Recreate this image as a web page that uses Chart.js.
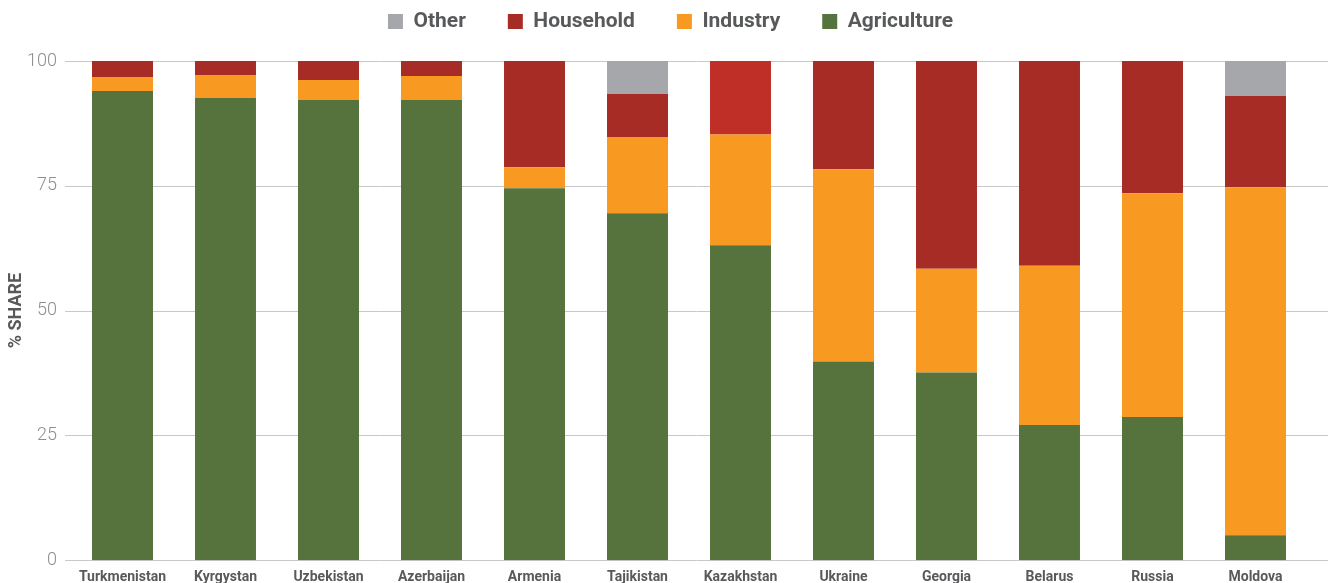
<!DOCTYPE html>
<html>
<head>
<meta charset="utf-8">
<script src="https://cdn.jsdelivr.net/npm/chart.js@4"></script>
<style>
    html, body { margin: 0; padding: 0; background: #fff; overflow: hidden; }
    #wrap { position: relative; width: 1333px; height: 595px; }
</style>
</head>
<body>
<div id="wrap"><canvas id="shareChart"></canvas></div>
<script>
// Data
const countries = ['Turkmenistan', 'Kyrgystan', 'Uzbekistan', 'Azerbaijan', 'Armenia', 'Tajikistan',
    'Kazakhstan', 'Ukraine', 'Georgia', 'Belarus', 'Russia', 'Moldova'];
const agriculture = [94.0, 92.6, 92.2, 92.2, 74.5, 69.5, 63.1, 39.8, 37.6, 27.1, 28.7, 5.0];
const industry    = [2.8, 4.6, 4.0, 4.8, 4.2, 15.2, 22.2, 38.5, 20.8, 31.9, 44.8, 69.7];
const household   = [3.2, 2.8, 3.8, 3.0, 21.3, 8.7, 14.7, 21.7, 41.6, 41.0, 26.5, 18.3];
const other       = [0, 0, 0, 0, 0, 6.6, 0, 0, 0, 0, 0, 7.0];
const yTicks = [0, 25, 50, 75, 100];

// Colors
const green = '#56733d';
const orange = '#f89921';
const red = '#a72c26';
const gray = '#a6a7aa';
// Kazakhstan's household bar is a slightly brighter red in the original
const householdColors = countries.map(c => c === 'Kazakhstan' ? '#c02f27' : red);

Chart.defaults.font.family = 'Roboto';

// grid lines run from a little left of the plot to past the last bar,
// legend sits higher (and a bit more right) than Chart.js would put it
const extrasPlugin = {
    id: 'extras',
    afterLayout(chart) {
        const lg = chart.legend;
        lg.top -= 31;   // only the top, so the legend clip box keeps the descenders
        lg.left += 17;
        lg.right += 17;
    },
    beforeDatasetsDraw(chart) {
        const {ctx, chartArea, scales: {y}} = chart;
        ctx.save();
        ctx.strokeStyle = '#c8c8c8';
        ctx.lineWidth = 1;
        yTicks.forEach(v => {
            const py = Math.round(y.getPixelForValue(v)) + 0.5;
            ctx.beginPath();
            ctx.moveTo(chartArea.left - 6, py);
            ctx.lineTo(chartArea.right + 21, py);
            ctx.stroke();
        });
        ctx.restore();
    }
};

const ctx = document.getElementById('shareChart').getContext('2d');
const shareChart = new Chart(ctx, {
    type: 'bar',
    data: {
        labels: countries,
        datasets: [
            { label: 'Agriculture', data: agriculture, backgroundColor: green },
            { label: 'Industry', data: industry, backgroundColor: orange },
            { label: 'Household', data: household, backgroundColor: householdColors },
            { label: 'Other', data: other, backgroundColor: gray }
        ]
    },
    options: {
        responsive: true,
        maintainAspectRatio: false,
        animation: false,
        layout: { padding: { left: 0, right: 26, top: 0, bottom: 0 } },
        datasets: {
            bar: { barPercentage: 0.592, categoryPercentage: 1, borderWidth: 0 }
        },
        plugins: {
            legend: {
                position: 'top',
                reverse: true,
                maxHeight: 61,
                labels: {
                    boxWidth: 15,
                    boxHeight: 15,
                    padding: 42,
                    color: '#58595b',
                    font: { size: 21, weight: 'bold' },
                    // Household swatch uses the main red, not Kazakhstan's
                    generateLabels(chart) {
                        const items = Chart.defaults.plugins.legend.labels.generateLabels(chart);
                        items.forEach(it => {
                            if (it.text === 'Household') it.fillStyle = red;
                        });
                        return items;
                    }
                }
            },
            tooltip: { enabled: false }
        },
        scales: {
            x: {
                stacked: true,
                grid: { display: false, drawTicks: false },
                border: { display: false },
                ticks: {
                    autoSkip: false,
                    maxRotation: 0,
                    padding: 9,
                    color: '#58595b',
                    font: { size: 14, weight: 'bold' }
                }
            },
            y: {
                stacked: true,
                min: 0,
                max: 100,
                afterFit(scale) { scale.width = 71; },
                afterBuildTicks(scale) { scale.ticks = yTicks.map(v => ({ value: v })); },
                grid: { display: false, drawTicks: true, tickLength: 6 },
                border: { display: false },
                ticks: {
                    padding: 8,
                    color: '#8e8e8e',
                    font: { size: 18, weight: 300 }
                },
                title: {
                    display: true,
                    text: '% SHARE',
                    color: '#58595b',
                    font: { size: 18, weight: 'bold' },
                    padding: { top: 6, bottom: 0 }
                }
            }
        }
    },
    plugins: [extrasPlugin]
});
</script>
</body>
</html>
